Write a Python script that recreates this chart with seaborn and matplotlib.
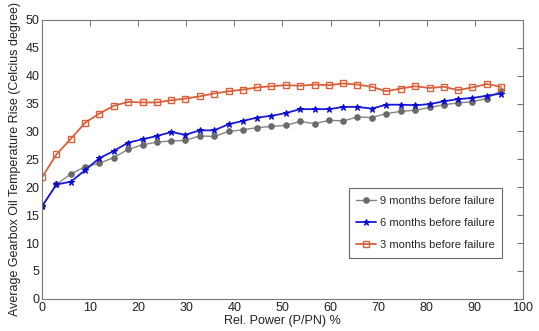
import matplotlib
matplotlib.use("Agg")
import matplotlib.pyplot as plt
import seaborn as sns

# ---- data ----
rel_power = [0.0, 3.0, 6.0, 9.0, 11.9, 14.9, 17.9, 20.9, 23.9, 26.9, 29.8,
             32.8, 35.8, 38.8, 41.8, 44.8, 47.7, 50.7, 53.7, 56.7, 59.7, 62.7,
             65.6, 68.6, 71.6, 74.6, 77.6, 80.6, 83.6, 86.5, 89.5, 92.5, 95.5]

months_9 = [16.6, 20.5, 22.4, 23.7, 24.3, 25.3, 26.8, 27.6, 28.1, 28.3, 28.4,
            29.2, 29.1, 30.0, 30.3, 30.7, 30.9, 31.1, 31.8, 31.4, 32.0, 31.9,
            32.6, 32.5, 33.2, 33.6, 33.8, 34.3, 34.8, 35.1, 35.35, 35.9, 37.3]

months_6 = [16.6, 20.5, 21.0, 23.1, 25.2, 26.5, 28.0, 28.6, 29.2, 29.9, 29.4,
            30.2, 30.2, 31.3, 31.9, 32.5, 32.8, 33.3, 34.0, 34.0, 34.0, 34.4,
            34.4, 34.1, 34.8, 34.8, 34.7, 34.9, 35.4, 35.8, 36.0, 36.4, 36.8]

months_3 = [21.8, 25.9, 28.7, 31.6, 33.2, 34.6, 35.3, 35.2, 35.2, 35.6, 35.9,
            36.3, 36.8, 37.2, 37.5, 37.9, 38.1, 38.3, 38.2, 38.4, 38.3, 38.6,
            38.4, 38.0, 37.2, 37.7, 38.1, 37.8, 38.0, 37.4, 37.9, 38.5, 38.0]

labels = ["9 months before failure", "6 months before failure", "3 months before failure"]

sns.set_theme(style="white")
plt.rcParams['font.family'] = ['Liberation Sans', 'DejaVu Sans']

fig = plt.figure(figsize=(5.39, 3.31), dpi=100)
ax = fig.add_axes([0.078, 0.097, 0.892, 0.843])

# gray circles
sns.lineplot(x=rel_power, y=months_9, ax=ax, color="#858585", linewidth=1.0,
             marker="o", markersize=4, markerfacecolor="#6a6a6a",
             markeredgecolor="#6a6a6a", label=labels[0])
# blue stars
sns.lineplot(x=rel_power, y=months_6, ax=ax, color="#1a1ad6", linewidth=1.3,
             marker="*", markersize=5, markerfacecolor="#0a0ad0",
             markeredgecolor="#0a0ad0", label=labels[1])
# red open squares
sns.lineplot(x=rel_power, y=months_3, ax=ax, color="#d9603b", linewidth=1.3,
             marker="s", markersize=4.5, markerfacecolor="none",
             markeredgecolor="#d9603b", markeredgewidth=1.0, label=labels[2])

ax.set_xlim(0, 100)
ax.set_ylim(0, 50)
ax.set_xticks(range(0, 101, 10))
ax.set_yticks(range(0, 51, 5))
ax.tick_params(direction="in", top=True, right=True, labelsize=9,
               length=4, width=0.6, color="#555555", labelcolor="#222222", pad=2)
for sp in ax.spines.values():
    sp.set_color("#777777")
    sp.set_linewidth(0.8)

ax.set_xlabel("Rel. Power (P/PN) %", fontsize=9, labelpad=1, color="#222222")
ax.set_ylabel("Average Gearbox Oil Temperature Rise (Celcius degree)", fontsize=9,
              labelpad=3, color="#222222")

leg = ax.legend(loc="center", bbox_to_anchor=(0.653, 0.143, 0.289, 0.258),
                fontsize=8, frameon=True, fancybox=False, handlelength=1.8,
                handletextpad=0.3, labelspacing=1.1, borderpad=0.7)
leg.get_frame().set_edgecolor("#444444")
leg.get_frame().set_linewidth(0.8)

fig.savefig("out.png", dpi=100, facecolor="white")
